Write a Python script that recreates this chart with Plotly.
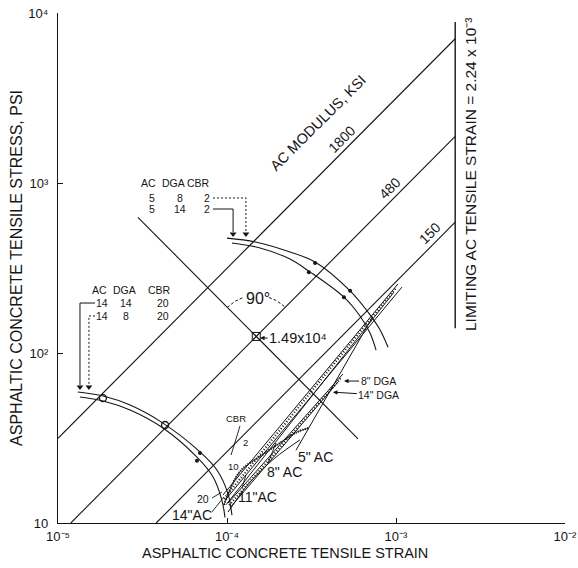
import numpy as np
import plotly.graph_objects as go

FONT = "Liberation Sans, Arial, sans-serif"
INK = "#151515"

# ---------------- axes ----------------
x_tickvals = [1e-5, 1e-4, 1e-3, 1e-2]
x_ticktext = ["10⁻⁵", "10⁻⁴", "10⁻³", "10⁻²"]
y_tickvals = [10, 100, 1000, 10000]
y_ticktext = ["10", "10²", "10³", "10⁴"]

# ---------------- modulus lines ----------------
ac_modulus_ksi = [1800, 480, 150]
modulus_scale = 1.75            # stress / (E * strain) as drawn
limiting_strain = 2.24e-3
limiting_stress_span = [8850, 140]
min_strain, min_stress = 1e-5, 10.0

# perpendicular line through the 480 line at strain 1.49e-4
perp_point_strain = 1.49e-4
perp_strain_range = [2.97e-5, 5.96e-4]

# ---------------- curves (AC 5, DGA 8/14, CBR 2) ----------------
upper_outer_strain = [1.00e-4, 1.47e-4, 2.36e-4, 3.32e-4, 5.35e-4, 6.83e-4, 8.04e-4, 8.97e-4]
upper_outer_stress = [474, 450, 393, 343, 232, 174, 137, 108]
upper_inner_strain = [1.07e-4, 1.57e-4, 2.36e-4, 3.05e-4, 4.92e-4, 6.12e-4, 7.02e-4, 7.62e-4]
upper_inner_stress = [444, 415, 357, 303, 213, 165, 131, 104]

# ---------------- curves (AC 14, DGA 14/8, CBR 20) ----------------
lower_outer_strain = [1.31e-5, 1.85e-5, 2.67e-5, 4.18e-5, 6.92e-5, 8.72e-5, 1.01e-4, 1.07e-4]
lower_outer_stress = [59.0, 55.8, 49.4, 38.7, 26.2, 20.5, 15.0, 11.1]
lower_inner_strain = [1.35e-5, 1.85e-5, 2.67e-5, 4.18e-5, 6.64e-5, 8.26e-5, 9.33e-5, 9.73e-5]
lower_inner_stress = [55.1, 52.2, 46.2, 36.2, 24.4, 18.7, 13.6, 10.8]

# ---------------- bundle of thickness / CBR lines ----------------
bundle_strain = [[9.46e-5, 1.028e-3], [9.73e-5, 1.084e-3], [9.87e-5, 9.73e-4],
                 [1.014e-4, 4.85e-4], [1.043e-4, 4.54e-4]]
bundle_stress = [[14.6, 255], [13.6, 244], [12.8, 228],
                 [13.1, 75.2], [12.3, 67.5]]
hatched_strain = [[9.6e-5, 1.00e-3], [1.03e-4, 4.70e-4]]
hatched_stress = [[13.9, 242], [12.7, 71.0]]
ac_curve_c_strain = [9.6e-5, 1.19e-4, 1.61e-4, 2.06e-4, 2.60e-4, 3.05e-4]
ac_curve_c_stress = [12.8, 20.0, 25.1, 29.6, 34.3, 36.2]
ac_curve_d_strain = [1.014e-4, 1.368e-4, 1.92e-4, 2.70e-4]
ac_curve_d_stress = [11.6, 17.4, 24.1, 30.8]
steep_strain = [2.56e-4, 7.21e-4]
steep_stress = [26.8, 160.7]

# leaders for small labels
leader_strain = [[10**-3.923, 10**-3.976], [10**-4.089, 10**-4.030], [10**-4.089, 10**-4.018],
                 [10**-3.911, 10**-3.888], [10**-3.757, 10**-3.710]]
leader_stress = [[10**1.571, 10**1.40], [10**1.147, 10**1.182], [10**1.065, 10**1.153],
                 [10**1.206, 10**1.282], [10**1.353, 10**1.471]]

# markers on the arcs
arc_dot_strain = [3.32e-4, 5.35e-4, 3.05e-4, 4.92e-4, 6.92e-5, 6.64e-5]
arc_dot_stress = [338, 232, 299, 213, 25.8, 23.2]
arc_circ_strain = [1.845e-5, 4.30e-5]
arc_circ_stress = [54.3, 37.7]

fig = go.Figure()

def line(xs, ys, width=1.1, dash="solid", shape="linear"):
    fig.add_trace(go.Scatter(x=xs, y=ys, mode="lines", line=dict(color=INK, width=width, dash=dash, shape=shape),
                             showlegend=False, hoverinfo="skip"))

# modulus lines
for E in ac_modulus_ksi:
    k = modulus_scale * E * 1000.0
    s0 = max(min_strain, min_stress / k)
    line([s0, limiting_strain], [k * s0, k * limiting_strain])

# limiting strain line
line([limiting_strain, limiting_strain], limiting_stress_span, width=1.4)

# perpendicular line
k480 = modulus_scale * ac_modulus_ksi[1] * 1000.0
C = k480 * perp_point_strain * perp_point_strain
line(perp_strain_range, [C / s for s in perp_strain_range])
fig.add_trace(go.Scatter(x=[perp_point_strain], y=[C / perp_point_strain], mode="markers",
                         marker=dict(symbol="square-x-open", size=8, color=INK, line=dict(width=1)),
                         showlegend=False, hoverinfo="skip"))

# 90 degree arc
lx0, ly0 = np.log10(perp_point_strain), np.log10(C / perp_point_strain)
for a0, a1 in [(135, 108), (72, 45)]:
    th = np.radians(np.linspace(a0, a1, 12))
    line(10 ** (lx0 + 0.243 * np.cos(th)), 10 ** (ly0 + 0.241 * np.sin(th)), width=1, dash="3px,2px")

# arcs
line(upper_outer_strain, upper_outer_stress, shape="spline")
line(upper_inner_strain, upper_inner_stress, shape="spline")
line(lower_outer_strain, lower_outer_stress, shape="spline")
line(lower_inner_strain, lower_inner_stress, shape="spline")

# bundle
for xs, ys in zip(bundle_strain, bundle_stress):
    line(xs, ys, width=1)
for xs, ys in zip(hatched_strain, hatched_stress):
    line(xs, ys, width=2.2, dash="1px,2px")
line(ac_curve_c_strain, ac_curve_c_stress, shape="spline", width=2.2, dash="1px,1.5px")
line(ac_curve_c_strain, ac_curve_c_stress, shape="spline", width=0.8)
line(ac_curve_d_strain, ac_curve_d_stress, shape="spline", width=1)
line(steep_strain, steep_stress, width=1)
for xs, ys in zip(leader_strain, leader_stress):
    line(xs, ys, width=0.9)

fig.add_trace(go.Scatter(x=arc_dot_strain, y=arc_dot_stress, mode="markers",
                         marker=dict(symbol="circle", size=4, color=INK), showlegend=False, hoverinfo="skip"))
fig.add_trace(go.Scatter(x=arc_circ_strain, y=arc_circ_stress, mode="markers",
                         marker=dict(symbol="circle-open", size=7, color=INK, line=dict(width=1.3)),
                         showlegend=False, hoverinfo="skip"))

# table leaders (upper)
line([10**-4.083, 10**-3.888, 10**-3.888], [10**2.912, 10**2.912, 10**2.712], width=1, dash="2px,2px")
line([10**-4.083, 10**-3.964, 10**-3.964], [10**2.847, 10**2.847, 10**2.712], width=1)
# table leaders (lower)
line([10**-4.781, 10**-4.870, 10**-4.870], [10**2.294, 10**2.294, 10**1.81], width=1)
line([10**-4.781, 10**-4.817, 10**-4.817], [10**2.218, 10**2.218, 10**1.81], width=1, dash="2px,2px")
fig.add_trace(go.Scatter(x=[10**-3.888, 10**-3.964, 10**-4.870, 10**-4.817],
                         y=[10**2.70, 10**2.70, 10**1.80, 10**1.80], mode="markers",
                         marker=dict(symbol="triangle-down", size=6, color=INK),
                         showlegend=False, hoverinfo="skip"))

# ---------------- text ----------------
ann = []

def txt(s, lx, ly, size, angle=0, xref="x", yref="y"):
    ann.append(dict(text=s, x=lx, y=ly, xref=xref, yref=yref, showarrow=False, textangle=angle,
                    xanchor="center", yanchor="middle", font=dict(size=size, family=FONT, color=INK)))

txt("AC MODULUS, KSI", -3.462, 3.353, 14.5, -45)
txt("1800", -3.320, 3.259, 14, -45)
txt("480", -3.036, 2.971, 14, -45)
txt("150", -2.799, 2.706, 14, -45)
txt("LIMITING AC TENSILE STRAIN = 2.24 x 10⁻³", -2.556, 3.053, 15.5, -90)
txt("90°", -3.817, 2.318, 16)

# upper table
for s, lx in zip(["AC", "DGA", "CBR"], [-4.467, -4.314, -4.166]):
    txt(s, lx, 3.0, 10.5)
for row, ly in [(["5", "8", "2"], 2.912), (["5", "14", "2"], 2.847)]:
    for s, lx in zip(row, [-4.444, -4.277, -4.118]):
        txt(s, lx, ly, 10.5)
# lower table
for s, lx in zip(["AC", "DGA", "CBR"], [-4.757, -4.604, -4.402]):
    txt(s, lx, 2.371, 10.5)
for row, ly in [(["14", "14", "20"], 2.294), (["14", "8", "20"], 2.218)]:
    for s, lx in zip(row, [-4.740, -4.600, -4.379]):
        txt(s, lx, ly, 10.5)

txt('14"AC', -4.207, 1.047, 14)
txt('11"AC', -3.822, 1.153, 14)
txt('8" AC', -3.657, 1.300, 14)
txt('5" AC', -3.479, 1.388, 14)
txt("CBR", -3.947, 1.612, 9.5)
txt("2", -3.888, 1.471, 9.5)
txt("10", -3.964, 1.335, 9.5)
txt("20", -4.142, 1.141, 10.5)

# arrowed labels
def arr(s, lx, ly, ax, ay, size):
    ann.append(dict(text=s, x=lx, y=ly, xref="x", yref="y", showarrow=True, ax=ax, ay=ay,
                    arrowhead=2, arrowsize=0.9, arrowwidth=1, arrowcolor=INK, standoff=4,
                    font=dict(size=size, family=FONT, color=INK)))

arr("1.49x10⁴", -3.828, 2.088, 42, 0, 14.5)
arr('8" DGA', -3.331, 1.835, 38, 0, 10.5)
arr('14" DGA', -3.397, 1.771, 50, 3, 10.5)

# axis titles
txt("ASPHALTIC CONCRETE TENSILE STRAIN", 0.448, -0.059, 14.5, 0, "paper", "paper")
txt("ASPHALTIC CONCRETE TENSILE STRESS, PSI", -0.083, 0.5, 16, -90, "paper", "paper")

axis_common = dict(type="log", showline=True, linecolor=INK, linewidth=1.2, ticks="inside",
                   ticklen=5, tickcolor=INK, showgrid=False, zeroline=False, mirror=False,
                   automargin=False, ticklabeloverflow="allow",
                   tickfont=dict(size=13, family=FONT, color=INK))
fig.update_layout(
    width=578, height=568, margin=dict(l=58, r=13, t=13, b=45),
    paper_bgcolor="white", plot_bgcolor="white", showlegend=False,
    xaxis=dict(range=[-5, -2], tickvals=x_tickvals, ticktext=x_ticktext, ticklabelstandoff=1, **axis_common),
    yaxis=dict(range=[1, 4], tickvals=y_tickvals, ticktext=y_ticktext, ticklabelstandoff=6, **axis_common),
    annotations=ann,
)
# remove the default 8px page margin so the figure fills the window exactly
fig.write_html("out.html", config={"displayModeBar": False},
               post_script="document.body.style.margin='0px';document.body.style.overflow='hidden';")
